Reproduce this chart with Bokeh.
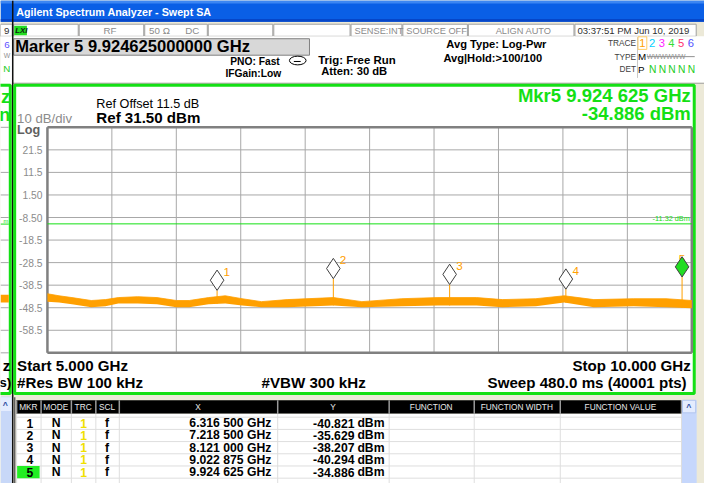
import numpy as np
from bokeh.plotting import figure
from bokeh.models import Range1d
from bokeh.core.properties import value
from bokeh.embed import file_html
from bokeh.resources import INLINE

# ------------------------------------------------------------------ data
start_ghz, stop_ghz = 5.0, 10.0
ref_level_dbm = 31.5
ref_offset_db = 11.5
db_per_div = 10
n_div = 10
freq_ticks = [5.0, 5.5, 6.0, 6.5, 7.0, 7.5, 8.0, 8.5, 9.0, 9.5, 10.0]
db_ticks = [21.5, 11.5, 1.5, -8.5, -18.5, -28.5, -38.5, -48.5, -58.5]
db_tick_labels = ["21.5", "11.5", "1.50", "-8.50", "-18.5", "-28.5", "-38.5", "-48.5", "-58.5"]
display_line_dbm = -11.32

# noise trace envelope (upper / lower edge of the averaged trace)
trace_ghz = [5.00, 5.09, 5.19, 5.34, 5.45, 5.55, 5.70, 5.85, 6.00, 6.10, 6.25, 6.38, 6.51, 6.66,
             6.86, 7.22, 7.44, 7.75, 8.03, 8.33, 8.53, 8.79, 9.01, 9.24, 9.55, 9.80, 10.00]
trace_hi_dbm = [-42.3, -43.2, -44.0, -45.3, -44.9, -44.0, -43.6, -44.0, -45.3, -45.3, -44.0, -43.2, -44.5, -45.8,
                -44.9, -44.0, -45.8, -44.5, -44.0, -44.0, -44.9, -44.5, -43.2, -44.9, -44.5, -44.5, -45.3]
trace_lo_dbm = [-45.8, -46.2, -47.0, -48.3, -47.9, -46.6, -46.6, -47.0, -48.3, -48.3, -47.0, -46.6, -47.5, -48.3,
                -48.3, -47.5, -48.3, -47.9, -47.5, -47.5, -48.3, -47.9, -46.2, -48.3, -47.9, -48.3, -48.7]

marker_ids = [1, 2, 3, 4, 5]
marker_ghz = [6.3165, 7.2185, 8.121, 9.022875, 9.924625]
marker_dbm = [-40.821, -35.629, -38.207, -40.294, -34.886]
active_marker = 5

table_headers = ["MKR", "MODE", "TRC", "SCL", "X", "Y", "FUNCTION", "FUNCTION WIDTH", "FUNCTION VALUE"]

# ------------------------------------------------------------------ layout / style
FONT = value("Liberation Sans")
RW, RH = 720, 499                 # design space (screen-shot pixels)
W, H = 704, 483                   # canvas that fits inside the 8px page margin
SX, SY = W / RW, H / RH
FS = 0.975                        # font scale
GX0, GX1, GY0, GY1 = 48, 707, 131, 364   # spectrum graticule in design pixels
GREEN = "#14e014"
ORANGE = "#ffa000"
BG = "#ece9d8"

p = figure(width=W, height=H, x_range=Range1d(0, RW), y_range=Range1d(RH, 0),
           output_backend="svg", toolbar_location=None, min_border=0,
           x_axis_location=None, y_axis_location=None,
           background_fill_color=BG, border_fill_color=BG, outline_line_color=None)
p.grid.visible = False

# spectrum scales mapped onto the graticule
fpp = (stop_ghz - start_ghz) / (GX1 - GX0)
bottom_db = ref_level_dbm - n_div * db_per_div
dpp = (ref_level_dbm - bottom_db) / (GY1 - GY0)
p.extra_x_ranges = {"f": Range1d(start_ghz - GX0 * fpp, stop_ghz + (RW - GX1) * fpp)}
p.extra_y_ranges = {"db": Range1d(bottom_db - (RH - GY1) * dpp, ref_level_dbm + GY0 * dpp)}
S = dict(x_range_name="f", y_range_name="db")


def box(x0, y0, x1, y1, fill, line=None, lw=1):
    p.quad(left=[x0], right=[x1], top=[y0], bottom=[y1], fill_color=fill,
           line_color=line, line_width=lw)


def seg(x0, y0, x1, y1, color, lw=1):
    p.segment(x0=[x0], y0=[y0], x1=[x1], y1=[y1], line_color=color, line_width=lw)


def txt(x, y, s, size, color="black", bold=False, align="left", italic=False):
    style = "bold" if bold else "normal"
    if italic:
        style = "bold italic" if bold else "italic"
    p.text(x=[x], y=[y], text=[s], text_font=FONT, text_font_size=f"{size * FS:.2f}px",
           text_font_style=style, text_color=color, text_align=align, text_baseline="middle")


# ------------------------------------------------------------------ window chrome
# title bar
box(0, 0, 720, 22, "#0a5fe6")
box(0, 0, 720, 3, "#3c86f2")
box(0, 19, 720, 22, "#0646c8")
txt(16, 12, "Agilent Spectrum Analyzer - Swept SA", 11, "white", bold=True)

# status row
cells = [13, 80, 147, 212, 279, 358, 411, 478, 587, 712]
for a, b in zip(cells[:-1], cells[1:]):
    box(a + 0.5, 24.5, b - 0.5, 37, "white", "#a0a0a0")
box(14, 26, 27, 36, "#22dd22")
txt(15, 31, "LXI", 8, "#102010", bold=True, italic=True)
GRAYTXT = "#8a8a8a"
txt(112, 31, "RF", 10, GRAYTXT, align="center")
txt(152, 31, "50 Ω", 10, GRAYTXT)
txt(189, 31, "DC", 10, GRAYTXT)
txt(362, 31, "SENSE:INT", 9.5, GRAYTXT)
txt(415, 31, "SOURCE OFF", 9.5, GRAYTXT)
txt(535, 31, "ALIGN AUTO", 9.5, GRAYTXT, align="center")
txt(590, 31, "03:37:51 PM Jun 10, 2019", 9.8, "#303030")

# header area
box(13, 37, 720, 85, "white")
seg(13, 85.5, 720, 85.5, "#a0a0a0", 1)
box(13.5, 39.5, 316, 56.5, "#d8d8d8", "#808080")
txt(15, 48, f"Marker {active_marker} {marker_ghz[-1]:.12f} GHz", 17, "black", bold=True)
txt(235, 63, "PNO: Fast", 10.5, bold=True)
txt(230, 75, "IFGain:Low", 10.5, bold=True)
p.ellipse(x=[304], y=[62], width=17, height=9, fill_color=None, line_color="black", line_width=1)
seg(300, 63, 307, 63, "black", 1)
txt(325, 61, "Trig: Free Run", 11.7, bold=True)
txt(328, 73, "Atten: 30 dB", 11.5, bold=True)
txt(456, 45, "Avg Type: Log-Pwr", 11.4, bold=True)
txt(453, 59, "Avg|Hold:>100/100", 11.4, bold=True)

# trace panel
seg(651.5, 38, 651.5, 80, "#c8c8c8", 1)
txt(650, 44, "TRACE", 8.5, "#404040", align="right")
txt(650, 58, "TYPE", 8.5, "#404040", align="right")
txt(650, 71, "DET", 8.5, "#404040", align="right")
box(652, 37.5, 661, 50.5, None, "#ffcc66")
trace_cols = [ORANGE, "#00d0ff", "#ff22ff", "#33dd33", "#ff3070", "#5050ff"]
for i, c in enumerate(trace_cols):
    txt(656.5 + i * 9.9, 44, str(i + 1), 11.5, c, align="center")
txt(652, 58, "M", 10, "black")
txt(661, 58, "WWWWWW", 7, "#909090")
seg(661, 58, 710, 58, "#909090", 1)
txt(652, 71, "P", 10, "black")
for i in range(5):
    txt(667 + i * 9.9, 71, "N", 10.5, "#22cc22", align="center")

# left sliver of a second analyzer window
box(0, 24.5, 12, 37, "white", "#a0a0a0")
txt(9, 31, "9", 10, "#303030", align="right")
box(0, 37, 12, 86, "white")
txt(6.5, 46, "6", 10, "#6050ff", align="center")
txt(6.5, 57, "W", 7, "#909090", align="center")
txt(6.5, 70, "N", 10, "#22cc22", align="center")
box(-4, 87.5, 10, 406, "white", GREEN, 3)
for k in range(n_div + 1):
    yy = GY0 + k * (GY1 - GY0) / n_div
    seg(0, yy, 8.5, yy, "#a8a8a8", 1)
seg(0, 231, 8.5, 231, GREEN, 1)
txt(8, 228, "m", 6, GREEN, align="right")
box(0, 304, 8.5, 312, ORANGE)
txt(10, 99, "z", 19, GREEN, bold=True, align="right")
txt(10, 118, "n", 19, GREEN, bold=True, align="right")
txt(10, 377, "z", 15.5, "black", bold=True, align="right")
txt(11, 395, "s)", 14, "black", bold=True, align="right")
box(0, 409, 11.5, 499, "#c8d8f8")
box(0, 410, 11, 424, "#e4ecfe")
txt(5, 418, "^", 9, "#3050a0", align="center", bold=True)
seg(12.5, 0, 12.5, 499, "#101010", 1.5)

# main measurement panel
box(14.5, 87.5, 709.5, 406, "white", GREEN, 3)

# ------------------------------------------------------------------ spectrum graticule
levels = [ref_level_dbm - k * db_per_div for k in range(n_div + 1)]
p.segment(x0=freq_ticks, y0=[bottom_db] * len(freq_ticks), x1=freq_ticks,
          y1=[ref_level_dbm] * len(freq_ticks), line_color="#a8a8a8", line_width=1, **S)
p.segment(x0=[start_ghz] * len(levels), y0=levels, x1=[stop_ghz] * len(levels), y1=levels,
          line_color="#a8a8a8", line_width=1, **S)
# frame edges
p.segment(x0=[start_ghz, start_ghz, start_ghz, stop_ghz], y0=[bottom_db, ref_level_dbm, bottom_db, bottom_db],
          x1=[start_ghz, stop_ghz, stop_ghz, stop_ghz], y1=[ref_level_dbm, ref_level_dbm, bottom_db, ref_level_dbm],
          line_color="#808080", line_width=2.5, **S)

p.text(x=[start_ghz] * len(db_ticks), y=db_ticks, text=db_tick_labels, x_offset=-5,
       text_font=FONT, text_font_size=f"{10.5 * FS:.2f}px", text_color="#8c8c8c",
       text_align="right", text_baseline="middle", **S)

# display line
p.segment(x0=[start_ghz], y0=[display_line_dbm], x1=[stop_ghz], y1=[display_line_dbm],
          line_color=GREEN, line_width=1, **S)
p.text(x=[stop_ghz], y=[display_line_dbm], text=[f"{display_line_dbm:.2f} dBm"], x_offset=-2, y_offset=-1,
       text_font=FONT, text_font_size=f"{7.5 * FS:.2f}px", text_color=GREEN, text_align="right",
       text_baseline="bottom", **S)

# trace
p.varea(x=trace_ghz, y1=trace_lo_dbm, y2=trace_hi_dbm, fill_color=ORANGE, **S)
p.line(x=trace_ghz, y=trace_hi_dbm, line_color=ORANGE, line_width=0.8, **S)

# markers
stem_bottom = list(np.interp(marker_ghz, trace_ghz, trace_lo_dbm))
p.segment(x0=marker_ghz, y0=marker_dbm, x1=marker_ghz, y1=stem_bottom,
          line_color=ORANGE, line_width=1, **S)
label_dx = [10 * SX if m != active_marker else 0 for m in marker_ids]
p.text(x=marker_ghz, y=marker_dbm, text=[str(m) for m in marker_ids], x_offset=label_dx, y_offset=-19 * SY,
       text_font=FONT, text_font_size=f"{12 * FS:.2f}px", text_color=ORANGE, text_align="center",
       text_baseline="middle", **S)
diamond_size = 21 * SY
diamond_y = [d + (21 / 2) * dpp for d in marker_dbm]
diamond_fill = ["#22dd22" if m == active_marker else "white" for m in marker_ids]
p.scatter(x=marker_ghz, y=diamond_y, marker="diamond", size=diamond_size,
          fill_color=diamond_fill, line_color="#404040", line_width=1, **S)


# panel texts
def fmt_ghz(f):
    s = f"{f:.6f}"
    return s[:-3] + " " + s[-3:]


txt(17, 122, f"{db_per_div} dB/div", 13.5, "#8c8c8c")
txt(17, 134, "Log", 13, "#606060", bold=True)
txt(98, 107, f"Ref Offset {ref_offset_db} dB", 13)
txt(98, 121, f"Ref {ref_level_dbm:.2f} dBm", 15.5, bold=True)
txt(706, 98, f"Mkr{active_marker} {fmt_ghz(marker_ghz[-1])} GHz", 19, GREEN, bold=True, align="right")
txt(706, 117, f"{marker_dbm[-1]:.3f} dBm", 19, GREEN, bold=True, align="right")
txt(17, 377, f"Start {start_ghz:.3f} GHz", 15.5, bold=True)
txt(17, 395, "#Res BW 100 kHz", 15.5, bold=True)
txt(267, 395, "#VBW 300 kHz", 15.5, bold=True)
txt(706, 377, f"Stop {stop_ghz:.3f} GHz", 15.5, bold=True, align="right")
txt(706, 395, "Sweep  480.0 ms (40001 pts)", 15.5, bold=True, align="right")

# ------------------------------------------------------------------ marker table
cols = [16, 41, 72, 97, 121, 283, 397, 484, 572, 696]
ROW0, ROWH = 430.5, 12.6
seg(14.5, 410, 14.5, 499, "#606060", 1.5)
box(16, 413, 696, 427, "black")
box(16, 427, 696, 499, "white")
row_y = [ROW0 + ROWH * (i + 0.5) for i in range(len(marker_ids))]
for i in range(len(marker_ids) + 1):
    yb = ROW0 + ROWH * i
    seg(16, yb, 696, yb, "#dedede", 1)
for c in cols:
    seg(c + 0.5, 413, c + 0.5, 427, "#9a9a9a", 1.5)
    seg(c + 0.5, 427, c + 0.5, 499, "#dedede", 1)
for a, b, h in zip(cols[:-1], cols[1:], table_headers):
    txt((a + b) / 2, 420, h, 8.5, "#e8e8e8", align="center")
# scrollbar
box(697, 413, 712, 499, "#c6d7fc")
box(697.5, 413, 711, 426, "#e4ecfe", "#b0c4ee")
txt(704, 420, "^", 9, "#3050a0", align="center", bold=True)

for m, f, d, y in zip(marker_ids, marker_ghz, marker_dbm, row_y):
    if m == active_marker:
        box(17, y - 6.3, 40, y + 6.3, "#22ee22")
    txt(30, y, str(m), 12.5, bold=True, align="center")
    txt(57, y, "N", 12.5, bold=True, align="center")
    txt(85, y, "1", 12.5, "#f0e000", bold=True, align="center")
    txt(109, y, "f", 12.5, bold=True, align="center")
    txt(277, y, f"{fmt_ghz(f)} GHz", 12.5, bold=True, align="right")
    txt(362, y, f"{d:.3f}", 12.5, bold=True, align="right")
    txt(365, y, "dBm", 12.5, bold=True)

open("out.html", "w").write(file_html(p, INLINE))
